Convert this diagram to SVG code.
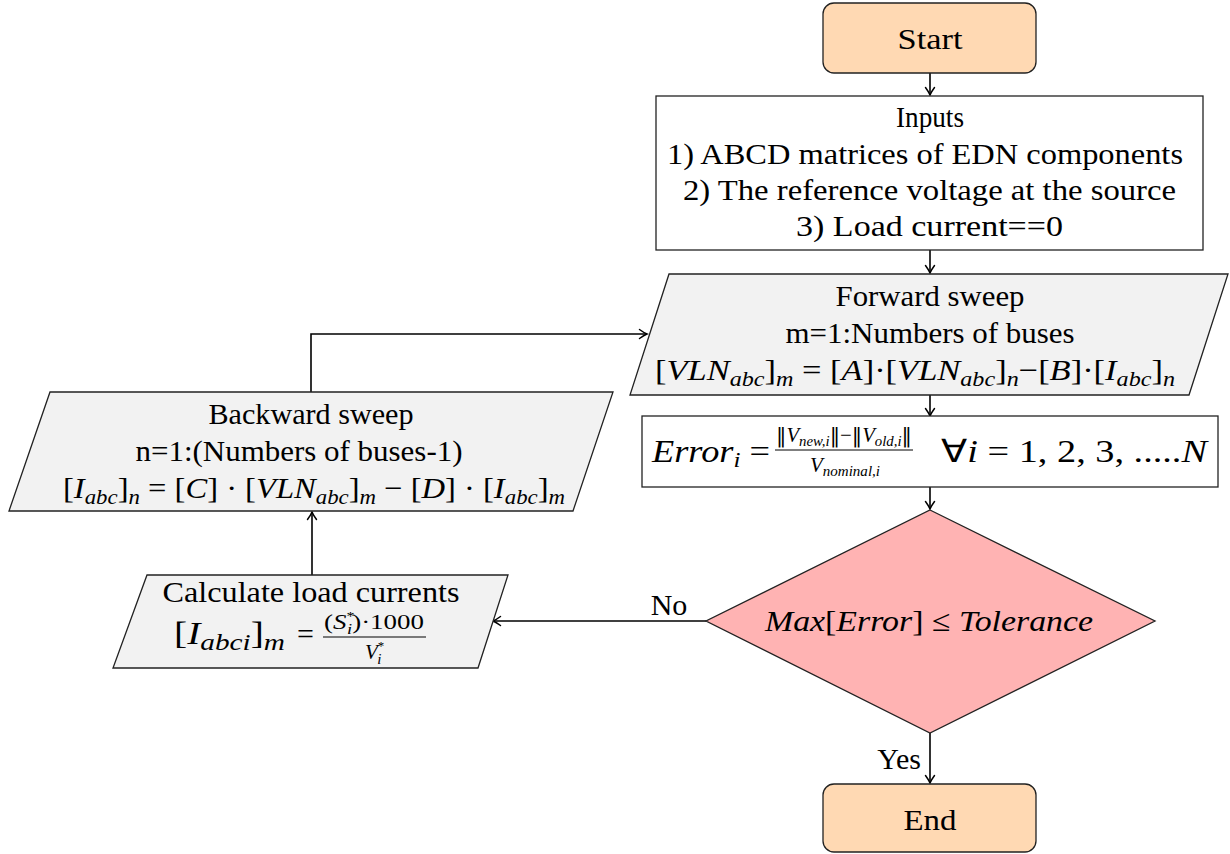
<svg xmlns="http://www.w3.org/2000/svg" width="1230" height="854" viewBox="0 0 1230 854">
<style>
.shape{stroke:#222;stroke-width:1.3}
.term{fill:#FFD9B3}
.io{fill:#F2F2F2}
.box{fill:#FFFFFF}
.dec{fill:#FFB3B3}
text{font-family:"Liberation Serif","Times New Roman",serif;font-size:30px;fill:#000}
.m{text-anchor:middle}
.e{text-anchor:end}
.i{font-style:italic}
.s{font-size:21px}
.f{font-size:21px}
.fs{font-size:15px}
.st{font-size:13px}
.nrm{font-family:"DejaVu Serif",serif}
.conn{fill:none;stroke:#000;stroke-width:1.6}
</style>
<defs>
<marker id="arr" markerUnits="userSpaceOnUse" markerWidth="14" markerHeight="14" viewBox="-10 -7 14 14" refX="0" refY="0" orient="auto">
<path d="M-7.5,-4.5 Q-3,-1.2 0,0 Q-3,1.2 -7.5,4.5" fill="none" stroke="#000" stroke-width="1.5" stroke-linecap="round"/>
</marker>
</defs>
<rect width="1230" height="854" fill="#fff"/>

<g id="connectors">
<path class="conn" d="M930,73 V95" marker-end="url(#arr)"/>
<path class="conn" d="M930,250 V273" marker-end="url(#arr)"/>
<path class="conn" d="M930,395 V416" marker-end="url(#arr)"/>
<path class="conn" d="M930,487 V509" marker-end="url(#arr)"/>
<path class="conn" d="M706,621 H493" marker-end="url(#arr)"/>
<path class="conn" d="M312,575 V512" marker-end="url(#arr)"/>
<path class="conn" d="M311,392 V334 H647" marker-end="url(#arr)"/>
<path class="conn" d="M930,733 V783" marker-end="url(#arr)"/>
<text x="669" y="615" class="m">No</text>
<text x="921" y="769" class="e">Yes</text>
</g>

<g id="start">
<rect class="shape term" x="823" y="3" width="213" height="70" rx="11"/>
<text x="930" y="49" class="m" textLength="65" lengthAdjust="spacingAndGlyphs">Start</text>
</g>

<g id="inputs">
<rect class="shape box" x="656" y="96" width="547" height="154"/>
<text x="930" y="127" class="m" textLength="68" lengthAdjust="spacingAndGlyphs">Inputs</text>
<text x="925" y="164" class="m" textLength="516" lengthAdjust="spacingAndGlyphs">1) ABCD matrices of EDN components</text>
<text x="929.5" y="200" class="m" textLength="493" lengthAdjust="spacingAndGlyphs">2) The reference voltage at the source</text>
<text x="929.5" y="236" class="m" textLength="267" lengthAdjust="spacingAndGlyphs">3) Load current==0</text>
</g>

<g id="forward">
<polygon class="shape io" points="669,274 1228,274 1189,395 630,395"/>
<text x="930" y="306" class="m" textLength="189" lengthAdjust="spacingAndGlyphs">Forward sweep</text>
<text x="930" y="343" class="m" textLength="289" lengthAdjust="spacingAndGlyphs">m=1:Numbers of buses</text>
<text x="655" y="380" textLength="520" lengthAdjust="spacingAndGlyphs">[<tspan class="i">VLN</tspan><tspan class="i s" dy="6">abc</tspan><tspan dy="-6">]</tspan><tspan class="i s" dy="6">m</tspan><tspan dy="-6"> = [</tspan><tspan class="i">A</tspan>]·[<tspan class="i">VLN</tspan><tspan class="i s" dy="6">abc</tspan><tspan dy="-6">]</tspan><tspan class="i s" dy="6">n</tspan><tspan dy="-6">−[</tspan><tspan class="i">B</tspan>]·[<tspan class="i">I</tspan><tspan class="i s" dy="6">abc</tspan><tspan dy="-6">]</tspan><tspan class="i s" dy="6">n</tspan></text>
</g>

<g id="error">
<rect class="shape box" x="642" y="416" width="576" height="71"/>
<text x="652" y="462" style="font-size:32px" textLength="118" lengthAdjust="spacingAndGlyphs"><tspan class="i">Error</tspan><tspan class="i" style="font-size:22px" dy="5">i</tspan><tspan dy="-5"> =</tspan></text>
<text x="776" y="442" class="f" textLength="136" lengthAdjust="spacingAndGlyphs"><tspan class="nrm">‖</tspan><tspan class="i">V</tspan><tspan class="i fs" dy="4">new,i</tspan><tspan class="nrm" dy="-4">‖</tspan>−<tspan class="nrm">‖</tspan><tspan class="i">V</tspan><tspan class="i fs" dy="4">old,i</tspan><tspan class="nrm" dy="-4">‖</tspan></text>
<line x1="775" y1="450" x2="913" y2="450" stroke="#000" stroke-width="1"/>
<text x="810" y="472" class="f" textLength="70" lengthAdjust="spacingAndGlyphs"><tspan class="i">V</tspan><tspan class="i fs" dy="4">nominal,i</tspan></text>
<text x="941" y="462" style="font-size:32px" textLength="266" lengthAdjust="spacingAndGlyphs">∀<tspan class="i">i</tspan>  =  1, 2, 3, .....<tspan class="i">N</tspan></text>
</g>

<g id="decision">
<polygon class="shape dec" points="930,510 1155,621 930,733 706,621"/>
<text x="765" y="631" textLength="328" lengthAdjust="spacingAndGlyphs"><tspan class="i">Max</tspan>[<tspan class="i">Error</tspan>] ≤ <tspan class="i">Tolerance</tspan></text>
</g>

<g id="backward">
<polygon class="shape io" points="50,392 613,392 573,511 9,511"/>
<text x="311" y="424" class="m" textLength="205" lengthAdjust="spacingAndGlyphs">Backward sweep</text>
<text x="299" y="461" class="m" textLength="327" lengthAdjust="spacingAndGlyphs">n=1:(Numbers of buses-1)</text>
<text x="63" y="498" textLength="502" lengthAdjust="spacingAndGlyphs">[<tspan class="i">I</tspan><tspan class="i s" dy="6">abc</tspan><tspan dy="-6">]</tspan><tspan class="i s" dy="6">n</tspan><tspan dy="-6"> = [</tspan><tspan class="i">C</tspan>] · [<tspan class="i">VLN</tspan><tspan class="i s" dy="6">abc</tspan><tspan dy="-6">]</tspan><tspan class="i s" dy="6">m</tspan><tspan dy="-6"> − [</tspan><tspan class="i">D</tspan>] · [<tspan class="i">I</tspan><tspan class="i s" dy="6">abc</tspan><tspan dy="-6">]</tspan><tspan class="i s" dy="6">m</tspan></text>
</g>

<g id="calc">
<polygon class="shape io" points="147,575 508,575 478,668 113,668"/>
<text x="311" y="602" class="m" textLength="297" lengthAdjust="spacingAndGlyphs">Calculate load currents</text>
<text x="174" y="644" style="font-size:31px" textLength="111" lengthAdjust="spacingAndGlyphs">[<tspan class="i">I</tspan><tspan class="i" style="font-size:23px" dy="6">abci</tspan><tspan dy="-6">]</tspan><tspan class="i" style="font-size:23px" dy="6">m</tspan></text>
<text x="297" y="644">=</text>
<text x="324" y="629" style="font-size:22px" textLength="100" lengthAdjust="spacingAndGlyphs">(<tspan class="i">S</tspan><tspan class="st" dy="-9">*</tspan><tspan class="fs i" dx="-6" dy="14">i</tspan><tspan dy="-5">)·1000</tspan></text>
<line x1="323" y1="637" x2="426" y2="637" stroke="#000" stroke-width="1"/>
<text x="365" y="659" class="f"><tspan class="i">V</tspan><tspan class="st" dy="-9">*</tspan><tspan class="fs i" dx="-7" dy="14">i</tspan></text>
</g>

<g id="end">
<rect class="shape term" x="823" y="784" width="213" height="68" rx="11"/>
<text x="930" y="830" class="m" textLength="53" lengthAdjust="spacingAndGlyphs">End</text>
</g>
</svg>
